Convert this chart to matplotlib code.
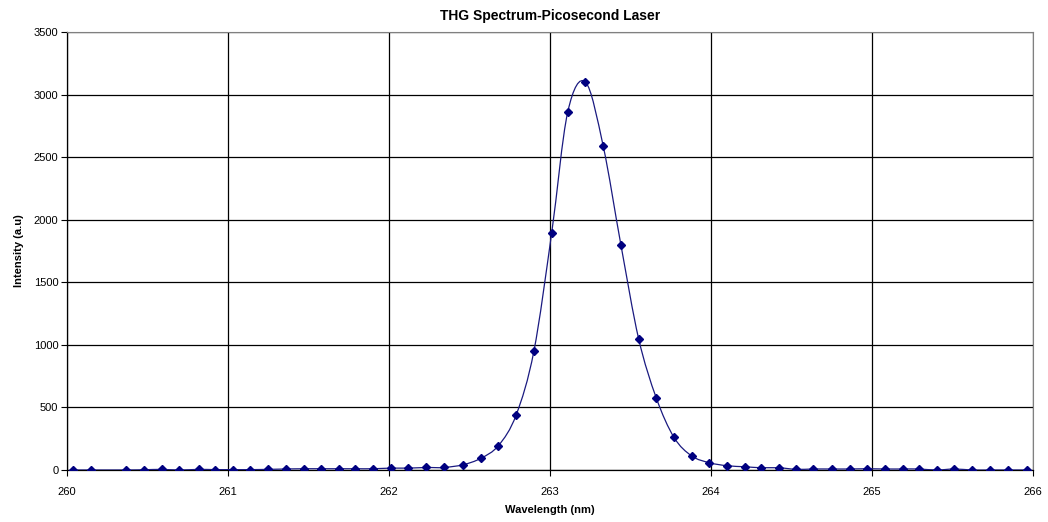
import matplotlib
matplotlib.use("Agg")
import matplotlib.pyplot as plt
from matplotlib.path import Path
from matplotlib.patches import PathPatch
import numpy as np

plt.rcParams['font.family'] = ['Liberation Sans', 'DejaVu Sans']

# wavelength (nm) and intensity (a.u)
wavelength = [260.04, 260.15, 260.37, 260.48, 260.59, 260.70, 260.82, 260.92,
              261.03, 261.14, 261.25, 261.36, 261.47, 261.58, 261.69, 261.79,
              261.90, 262.01, 262.12, 262.23, 262.34, 262.46, 262.57, 262.68,
              262.79, 262.90, 263.01, 263.11, 263.22, 263.33, 263.44, 263.55,
              263.66, 263.77, 263.88, 263.99, 264.10, 264.21, 264.31, 264.42,
              264.53, 264.63, 264.75, 264.86, 264.97, 265.08, 265.19, 265.29,
              265.40, 265.51, 265.62, 265.73, 265.84, 265.96]
intensity = [0, 0, 0, 2, 5, 0, 5, 3,
             3, 3, 5, 8, 10, 10, 10, 10,
             10, 15, 15, 20, 20, 42, 93, 195,
             440, 950, 1890, 2860, 3100, 2590, 1800, 1050,
             575, 260, 112, 58, 34, 26, 18, 18,
             5, 8, 8, 8, 10, 8, 8, 8,
             0, 8, 0, 0, 0, 0]

fig = plt.figure(figsize=(10.48, 5.22), dpi=100)
ax = fig.add_axes([66.7 / 1048, 52 / 522, (1033.3 - 66.7) / 1048, 438 / 522])

# smoothed line like the spreadsheet: bezier segments through the points
x = np.array(wavelength)
y = np.array(intensity, dtype=float)
verts = [(x[0], y[0])]
codes = [Path.MOVETO]
n = len(x)
for i in range(n - 1):
    x0, y0 = (x[i - 1], y[i - 1]) if i > 0 else (x[i], y[i])
    x3, y3 = (x[i + 2], y[i + 2]) if i + 2 < n else (x[i + 1], y[i + 1])
    c1 = (x[i] + (x[i + 1] - x0) / 6, y[i] + (y[i + 1] - y0) / 6)
    c2 = (x[i + 1] - (x3 - x[i]) / 6, y[i + 1] - (y3 - y[i]) / 6)
    verts += [c1, c2, (x[i + 1], y[i + 1])]
    codes += [Path.CURVE4] * 3
ax.add_patch(PathPatch(Path(verts, codes), facecolor='none',
                       edgecolor='#1a1a80', lw=0.9, zorder=3))
ax.plot(wavelength, intensity, linestyle='none', marker='D', markersize=4.5,
        color='#000080', zorder=4)

ax.set_xlim(260, 266)
ax.set_ylim(0, 3500)
ax.set_xticks(range(260, 267))
ax.set_yticks(range(0, 3501, 500))
ax.grid(True, color='black', linewidth=0.9)
ax.set_axisbelow(True)
for side in ['top', 'right']:
    ax.spines[side].set_color('#808080')
    ax.spines[side].set_linewidth(0.8)
for side in ['left', 'bottom']:
    ax.spines[side].set_color('black')
    ax.spines[side].set_linewidth(0.9)
ax.tick_params(axis='both', labelsize=8, length=4, width=0.8, direction='out')
ax.tick_params(axis='y', pad=2)
ax.tick_params(axis='x', pad=8)

ax.set_title("THG Spectrum-Picosecond Laser", fontsize=10, fontweight='bold', pad=9)
ax.set_xlabel("Wavelength (nm)", fontsize=8, fontweight='bold', labelpad=6)
ax.set_ylabel("Intensity (a.u)", fontsize=8, fontweight='bold', labelpad=7)

fig.savefig("out.png", dpi=100)
